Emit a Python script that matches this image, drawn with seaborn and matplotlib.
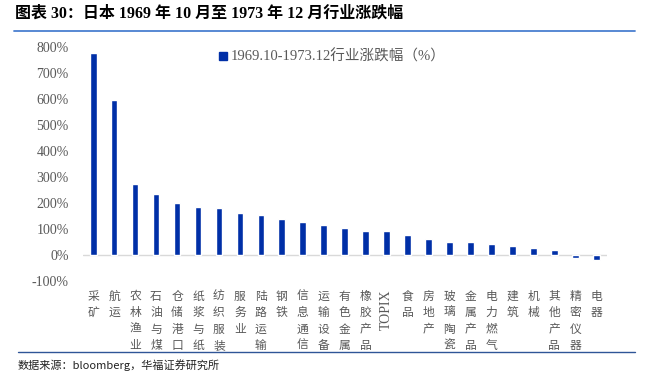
import numpy as np
import pandas as pd
import matplotlib
matplotlib.use("Agg")
import matplotlib.pyplot as plt
from matplotlib.lines import Line2D
from matplotlib.ticker import FuncFormatter
import seaborn as sns

# ── data ───────────────────────────────────────────────
industries = ["采矿", "航运", "农林渔业", "石油与煤", "仓储港口", "纸浆与纸",
              "纺织服装", "服务业", "陆路运输", "钢铁", "信息通信", "运输设备",
              "有色金属", "橡胶产品", "TOPIX", "食品", "房地产", "玻璃陶瓷",
              "金属产品", "电力燃气", "建筑", "机械", "其他产品", "精密仪器", "电器"]
change_pct = [778, 598, 275, 234, 200, 184, 179, 163, 152, 139, 126, 116,
              103, 93, 91, 78, 63, 51, 50, 41, 35, 27, 19, -12, -18]
series_name = "1969.10-1973.12行业涨跌幅（%）"

df = pd.DataFrame({"industry": industries, "change": change_pct})

# ── style ──────────────────────────────────────────────
sns.set_theme(style="white")
plt.rcParams["font.family"] = ["Liberation Serif", "Noto Sans CJK SC", "DejaVu Sans"]
bar_color = "#002FA7"
gray = "#595959"

fig = plt.figure(figsize=(6.59, 3.81), dpi=100)
ax = fig.add_axes([82.7 / 659, 1 - 281 / 381, 524 / 659, 234 / 381])

sns.barplot(data=df, x="industry", y="change", color=bar_color, width=0.32,
            saturation=1, ax=ax)

ax.set_ylim(-100, 800)
ax.set_xlim(-0.5, len(industries) - 0.5)
ax.set_yticks(np.arange(-100, 801, 100))
ax.yaxis.set_major_formatter(FuncFormatter(lambda v, p: f"{v:.0f}%"))
ax.tick_params(axis="y", length=0, pad=10, labelsize=10, labelcolor=gray)
ax.set_xlabel("")
ax.set_ylabel("")
for s in ax.spines.values():
    s.set_visible(False)
ax.axhline(0, color="#d9d9d9", lw=1, zorder=0)

# vertical stacked category labels
ax.set_xticks(range(len(industries)))
ax.set_xticklabels([])
ax.tick_params(axis="x", length=0)
for i, name in enumerate(industries):
    if name.isascii():
        ax.text(i, -0.037, name, transform=ax.get_xaxis_transform(),
                rotation=90, ha="center", va="top", fontsize=10, color=gray)
    else:
        ax.text(i, -0.037, "\n".join(name), transform=ax.get_xaxis_transform(),
                ha="center", va="top", fontsize=8.5, color=gray, linespacing=1.35,
                family=["Noto Sans CJK SC"])

handle = Line2D([], [], marker="s", ls="none", color=bar_color, markersize=6)
leg = ax.legend([handle], [series_name], loc="upper left",
                bbox_to_anchor=(0.235, 1.045), frameon=False,
                handlelength=0.6, handletextpad=0.2,
                prop={"size": 10.5})
for t in leg.get_texts():
    t.set_color(gray)

# title, rules and source
fig.text(15 / 659, 1 - 14 / 381, "图表 30：日本 1969 年 10 月至 1973 年 12 月行业涨跌幅",
         fontsize=11.5, fontweight="bold", va="center", ha="left", color="black")
fig.add_artist(Line2D([14 / 659, 635 / 659], [1 - 30.7 / 381] * 2,
                      color="#4a7fd0", lw=1.3))
fig.add_artist(Line2D([18 / 659, 635 / 659], [1 - 351.7 / 381] * 2,
                      color="#2f5597", lw=1))
fig.text(18 / 659, 1 - 365 / 381, "数据来源：bloomberg，华福证券研究所",
         fontsize=8, va="center", ha="left", color="#222222",
         family=["Noto Sans CJK SC", "DejaVu Sans"])

fig.savefig("out.png", dpi=100)
